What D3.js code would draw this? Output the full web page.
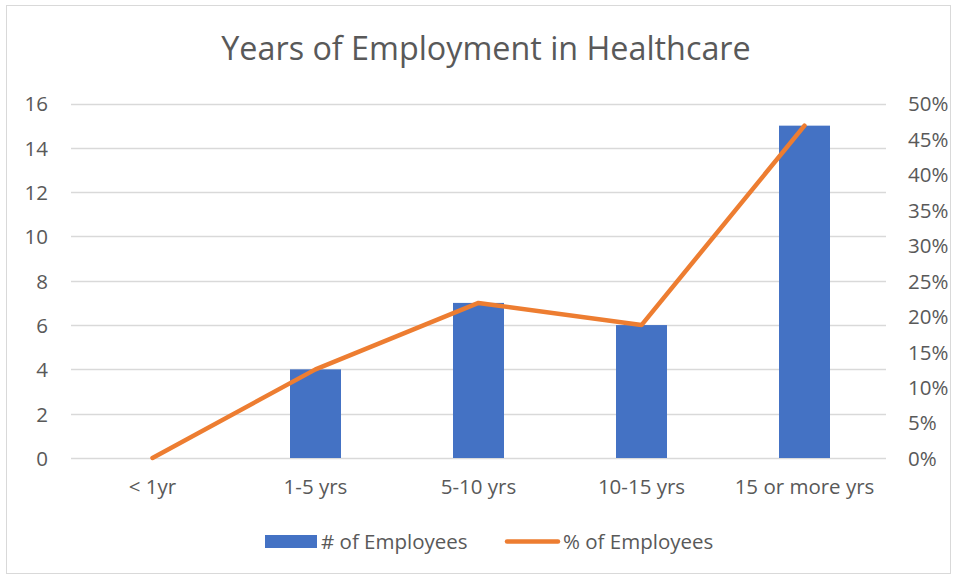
<!DOCTYPE html>
<html>
<head>
<meta charset="utf-8">
<script src="https://cdn.jsdelivr.net/npm/d3@7"></script>
<style>
  body { margin: 0; background: #fff; }
  text { font-family: "Open Sans", Lato, sans-serif; fill: #595959; }
</style>
</head>
<body>
<div id="wrapper"></div>
<script>
const categories = ["< 1yr", "1-5 yrs", "5-10 yrs", "10-15 yrs", "15 or more yrs"];
const employees = [0, 4, 7, 6, 15];
const percents = [0, 0.125, 0.21875, 0.1875, 0.46875];
const leftTicks = [0, 2, 4, 6, 8, 10, 12, 14, 16];
const rightTicks = [0, 0.05, 0.1, 0.15, 0.2, 0.25, 0.3, 0.35, 0.4, 0.45, 0.5];

const width = 957, height = 578;
const plot = { left: 71, right: 886, top: 103.5, bottom: 458 };
const labelSize = "20.5px";

const svg = d3.select("#wrapper").append("svg")
    .attr("width", width)
    .attr("height", height);

// chart frame
svg.append("rect")
    .attr("x", 6.5).attr("y", 5.5)
    .attr("width", 944).attr("height", 568)
    .attr("fill", "#fff")
    .attr("stroke", "#d9d9d9");

const xScale = d3.scaleBand()
    .domain(categories)
    .range([plot.left, plot.right]);

const yLeft = d3.scaleLinear()
    .domain([0, 16])
    .range([plot.bottom, plot.top]);

const yRight = d3.scaleLinear()
    .domain([0, 0.5])
    .range([plot.bottom, plot.top]);

// gridlines
svg.append("g")
    .selectAll("line")
    .data(leftTicks)
    .join("line")
    .attr("x1", plot.left).attr("x2", plot.right)
    .attr("y1", d => Math.round(yLeft(d)) + 0.5)
    .attr("y2", d => Math.round(yLeft(d)) + 0.5)
    .attr("stroke", "#d9d9d9")
    .attr("stroke-width", 1.3);

// left axis labels
const axisL = d3.axisLeft(yLeft).tickValues(leftTicks).tickSize(0).tickPadding(0);
svg.append("g")
    .attr("transform", `translate(${plot.left - 23}, 0)`)
    .call(axisL)
    .call(g => g.select(".domain").remove())
    .selectAll("text")
    .attr("dy", "0.36em")
    .style("font-size", labelSize)
    .style("font-family", "'Open Sans', sans-serif")
    .style("fill", "#595959");

// right axis labels
const axisR = d3.axisRight(yRight).tickValues(rightTicks).tickFormat(d3.format(".0%")).tickSize(0).tickPadding(0);
svg.append("g")
    .attr("transform", `translate(${plot.right + 22}, 0)`)
    .call(axisR)
    .call(g => g.select(".domain").remove())
    .selectAll("text")
    .attr("dy", "0.36em")
    .style("font-size", labelSize)
    .style("font-family", "'Open Sans', sans-serif")
    .style("fill", "#595959");

// bottom axis labels
const axisB = d3.axisBottom(xScale).tickSize(0).tickPadding(0);
svg.append("g")
    .attr("transform", `translate(0, ${plot.bottom + 21})`)
    .call(axisB)
    .call(g => g.select(".domain").remove())
    .selectAll("text")
    .style("font-size", labelSize)
    .style("font-family", "'Open Sans', sans-serif")
    .style("fill", "#595959");

// bars
const barW = 51;
svg.append("g")
    .selectAll("rect")
    .data(employees)
    .join("rect")
    .attr("x", (d, i) => xScale(categories[i]) + xScale.bandwidth() / 2 - barW / 2)
    .attr("y", d => yLeft(d))
    .attr("width", barW)
    .attr("height", d => yLeft(0) - yLeft(d))
    .attr("fill", "#4472c4");

// line
const line = d3.line()
    .x((d, i) => xScale(categories[i]) + xScale.bandwidth() / 2)
    .y(d => yRight(d));

svg.append("path")
    .attr("d", line(percents))
    .attr("fill", "none")
    .attr("stroke", "#ed7d31")
    .attr("stroke-width", 4.5)
    .attr("stroke-linecap", "round")
    .attr("stroke-linejoin", "round");

// title
svg.append("text")
    .attr("x", 486)
    .attr("y", 60)
    .attr("text-anchor", "middle")
    .style("font-size", "32.3px")
    .style("fill", "#595959")
    .text("Years of Employment in Healthcare");

// legend
const legend = svg.append("g");
legend.append("rect")
    .attr("x", 265).attr("y", 535)
    .attr("width", 52).attr("height", 13)
    .attr("fill", "#4472c4");
legend.append("text")
    .attr("x", 321).attr("y", 549)
    .style("font-size", labelSize)
    .text("# of Employees");
legend.append("line")
    .attr("x1", 507).attr("x2", 558)
    .attr("y1", 541.5).attr("y2", 541.5)
    .attr("stroke", "#ed7d31")
    .attr("stroke-width", 4.5)
    .attr("stroke-linecap", "round");
legend.append("text")
    .attr("x", 563).attr("y", 549)
    .style("font-size", labelSize)
    .text("% of Employees");
</script>
</body>
</html>
